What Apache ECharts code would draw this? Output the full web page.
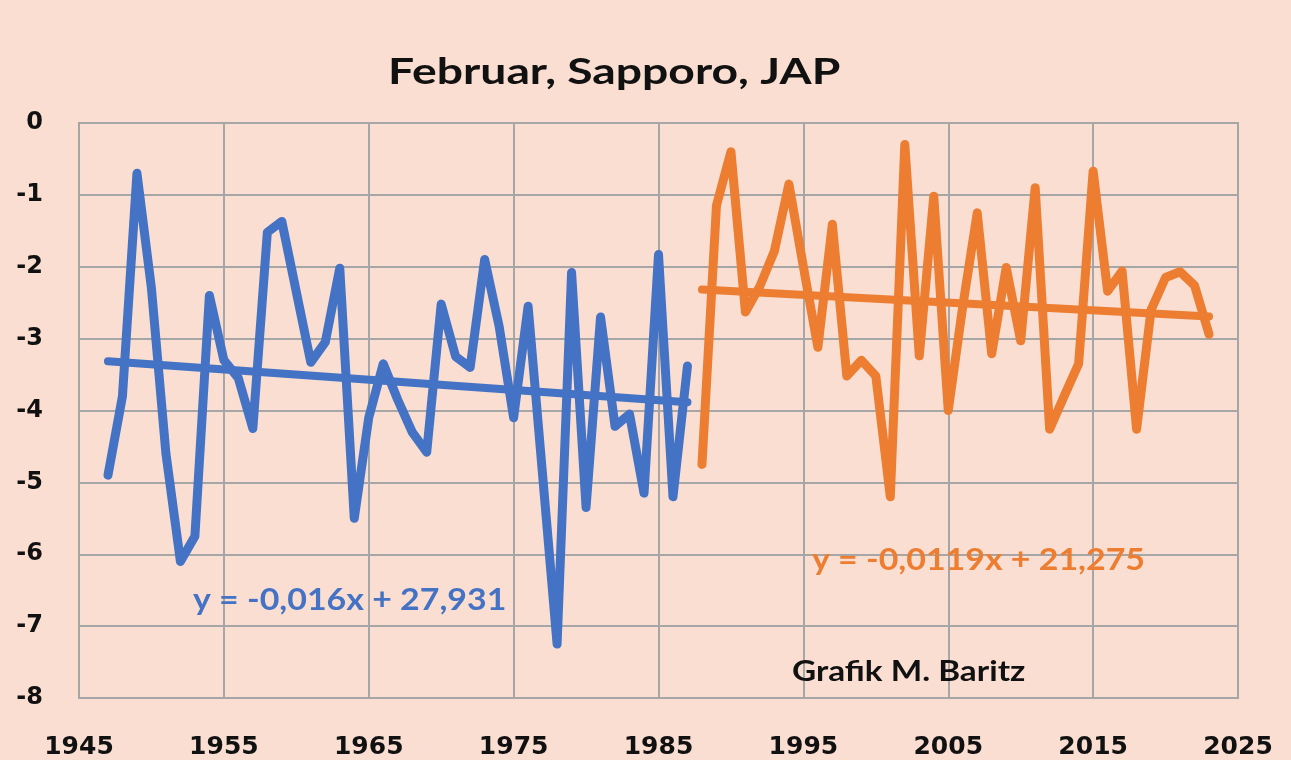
<!DOCTYPE html>
<html>
<head>
<meta charset="utf-8">
<script src="https://cdn.jsdelivr.net/npm/echarts@6/dist/echarts.min.js"></script>
<style>
    body { margin: 0; background: #f9ded1; }
    #chart { width: 1291px; height: 760px; }
</style>
</head>
<body>
<div id="chart"></div>
<script>
var blueYears = [1947, 1948, 1949, 1950, 1951, 1952, 1953, 1954, 1955, 1956,
    1957, 1958, 1959, 1960, 1961, 1962, 1963, 1964, 1965, 1966,
    1967, 1968, 1969, 1970, 1971, 1972, 1973, 1974, 1975, 1976,
    1977, 1978, 1979, 1980, 1981, 1982, 1983, 1984, 1985, 1986, 1987];
var blueTemps = [-4.9, -3.8, -0.7, -2.3, -4.6, -6.1, -5.75, -2.4, -3.3, -3.55,
    -4.25, -1.52, -1.37, -2.35, -3.33, -3.05, -2.02, -5.5, -4.1, -3.35,
    -3.85, -4.3, -4.58, -2.52, -3.25, -3.4, -1.9, -2.83, -4.1, -2.55,
    -4.9, -7.25, -2.08, -5.35, -2.7, -4.22, -4.05, -5.15, -1.83, -5.2, -3.38];

var orangeYears = [1988, 1989, 1990, 1991, 1992, 1993, 1994, 1995, 1996, 1997,
    1998, 1999, 2000, 2001, 2002, 2003, 2004, 2005, 2006, 2007,
    2008, 2009, 2010, 2011, 2012, 2013, 2014, 2015, 2016, 2017,
    2018, 2019, 2020, 2021, 2022, 2023];
var orangeTemps = [-4.75, -1.15, -0.4, -2.63, -2.27, -1.78, -0.85, -2.0, -3.12, -1.41,
    -3.52, -3.3, -3.52, -5.2, -0.3, -3.24, -1.02, -4.0, -2.55, -1.25,
    -3.21, -2.01, -3.03, -0.9, -4.26, -3.8, -3.35, -0.67, -2.34, -2.06,
    -4.26, -2.6, -2.15, -2.07, -2.26, -2.94];

var chartTitle = 'Februar, Sapporo, JAP';
var blueLabel = 'y = -0,016x + 27,931';
var orangeLabel = 'y = -0,0119x + 21,275';
var credit = 'Grafik M. Baritz';

function pairs(xs, ys) {
    var out = [];
    for (var i = 0; i < xs.length; i++) out.push([xs[i], ys[i]]);
    return out;
}

// lineare Regression wie die Excel-Trendlinie
function trend(xs, ys) {
    var n = xs.length, sx = 0, sy = 0, sxx = 0, sxy = 0;
    for (var i = 0; i < n; i++) {
        sx += xs[i]; sy += ys[i];
        sxx += xs[i] * xs[i]; sxy += xs[i] * ys[i];
    }
    var m = (n * sxy - sx * sy) / (n * sxx - sx * sx);
    var b = (sy - m * sx) / n;
    var x0 = xs[0], x1 = xs[n - 1];
    return [[x0, m * x0 + b], [x1, m * x1 + b]];
}

var blue = '#4472c4';
var orange = '#ed7d31';
var gridColor = '#a6a6a6';
var labelFont = 'DejaVu Sans';
var textFont = 'Lato';

function lineSeries(data, color, width) {
    return {
        type: 'line',
        data: data,
        symbol: 'none',
        silent: true,
        lineStyle: { color: color, width: width, cap: 'round', join: 'round' }
    };
}

// Text mit horizontaler Streckung (Excel-Bild ist breiter gezogen)
function label(x, y, text, size, color, sx) {
    return {
        type: 'text', silent: true, z: 100,
        x: x, y: y, scaleX: sx,
        style: {
            x: 0, y: 0, text: text, textVerticalAlign: 'middle',
            font: 'bold ' + size + 'px ' + textFont, fill: color
        }
    };
}

var option = {
    backgroundColor: '#f9ded1',
    animation: false,
    grid: {
        left: 79, right: 53, top: 123, bottom: 61,
        show: true, borderColor: gridColor, borderWidth: 2
    },
    xAxis: {
        type: 'value',
        min: 1945, max: 2025, interval: 10,
        axisLine: { show: false },
        axisTick: { show: false },
        splitLine: { lineStyle: { color: gridColor, width: 2 } },
        axisLabel: {
            color: '#111', fontWeight: 'bold', fontSize: 25, fontFamily: labelFont,
            margin: 37,
            formatter: function (v) { return String(v); }
        }
    },
    yAxis: {
        type: 'value',
        min: -8, max: 0, interval: 1,
        axisLine: { show: false },
        axisTick: { show: false },
        splitLine: { lineStyle: { color: gridColor, width: 2 } },
        axisLabel: {
            color: '#111', fontWeight: 'bold', fontSize: 24, fontFamily: labelFont,
            margin: 36
        }
    },
    graphic: [
        label(388, 72, chartTitle, 37, '#111', 1.25),
        label(193, 600, blueLabel, 30, blue, 1.13),
        label(812, 560, orangeLabel, 30, orange, 1.13),
        label(792, 672, credit, 28, '#111', 1.19)
    ],
    series: [
        lineSeries(pairs(blueYears, blueTemps), blue, 9),
        lineSeries(trend(blueYears, blueTemps), blue, 8),
        lineSeries(pairs(orangeYears, orangeTemps), orange, 9),
        lineSeries(trend(orangeYears, orangeTemps), orange, 8)
    ]
};

var chart = echarts.init(document.getElementById('chart'));
chart.setOption(option);
</script>
</body>
</html>
